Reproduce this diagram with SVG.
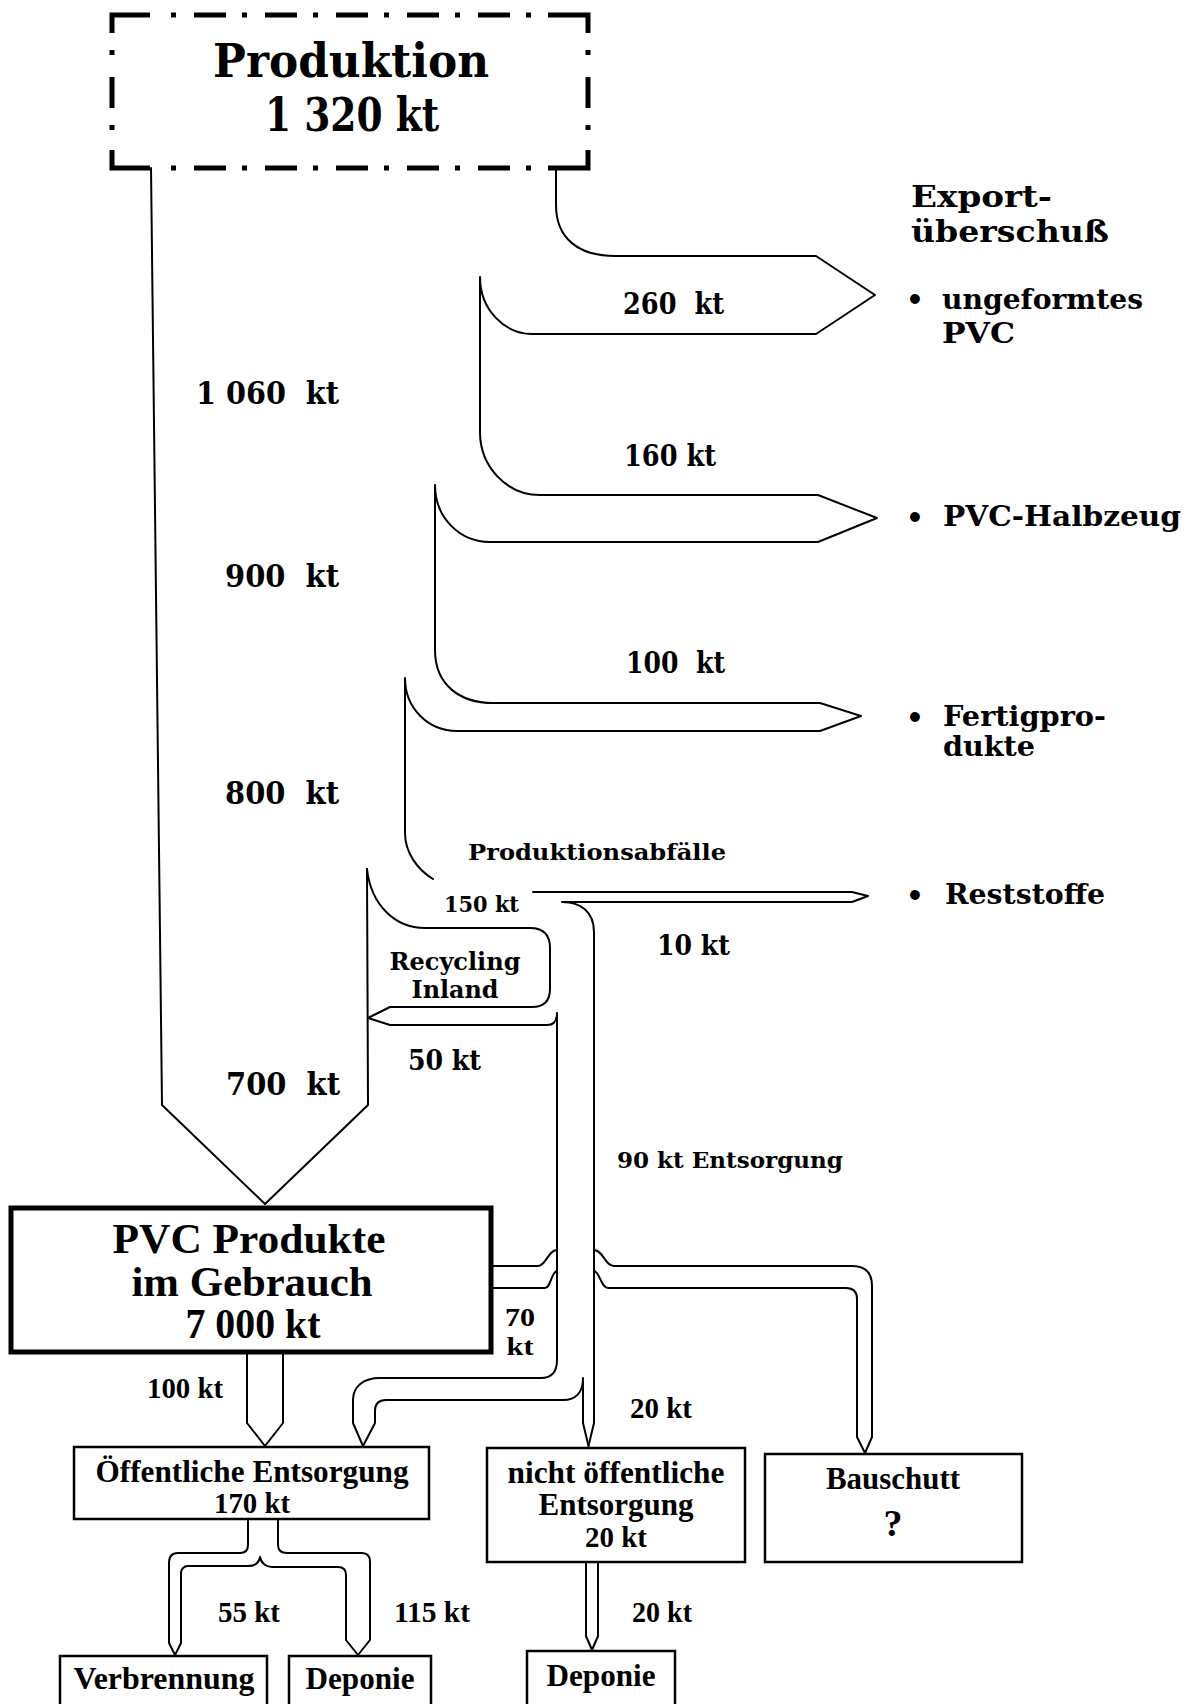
<svg xmlns="http://www.w3.org/2000/svg" width="1190" height="1704" viewBox="0 0 1190 1704">
<style>
.flow{fill:none;stroke:#000;stroke-width:2;stroke-linejoin:round;stroke-linecap:round}
.box{fill:none;stroke:#000;stroke-width:2.5}
.thick{fill:none;stroke:#000;stroke-width:5}
.dash{fill:none;stroke:#000;stroke-width:5;stroke-linecap:butt;stroke-linejoin:miter}
.w{font-family:"DejaVu Serif",serif;font-weight:bold;fill:#000}
.t{font-family:"Liberation Serif","Times New Roman",serif;font-weight:bold;fill:#000}
.pre{white-space:pre}
.m{text-anchor:middle}
</style>
<rect width="1190" height="1704" fill="#fff"/>

<g id="produktion">
<path class="dash" d="M112,33 V15 H150 M548,15 H588 V33 M112,150 V168 H150 M548,168 H588 V150
M171,15 H176 M194,15 H226 M242,15 H247 M265,15 H297 M313,15 H318 M336,15 H368 M384,15 H389 M407,15 H439 M455,15 H460 M478,15 H510 M526,15 H531
M171,168 H176 M194,168 H226 M242,168 H247 M265,168 H297 M313,168 H318 M336,168 H368 M384,168 H389 M407,168 H439 M455,168 H460 M478,168 H510 M526,168 H531
M112,50 V55 M112,77 V108 M112,125 V130 M588,50 V55 M588,77 V108 M588,125 V130"/>
<text class="w m" x="351" y="77" font-size="46" textLength="276" lengthAdjust="spacingAndGlyphs">Produktion</text>
<text class="w m" x="352" y="131" font-size="46" textLength="174" lengthAdjust="spacingAndGlyphs">1 320 kt</text>
</g>

<g id="connectors">
<path class="flow" d="M151,168 L162,1105 L265,1204 L368,1105 L367,869"/>
<path class="flow" d="M556,168 V205 C556,238 578,256 615,256 H816 L875,295 L816,334 H532 C505,334 480,310 480,277 V432 C480,467 507,495 540,495 H818 L877,518 L818,542 H490 C460,542 435,518 435,485 V650 C435,685 460,703 493,703 H820 L861,716 L820,731 H457 C428,731 405,708 405,678 V833 C405,853 418,870 433,879"/>
<path class="flow" d="M533,892 H852 L868,896 L852,902 H562 M562,902 C581,902 594,912 594,932 V1423 L588.5,1446"/>
<path class="flow" d="M367,869 C371,905 395,928 425,928 H530 Q550,928 550,948 V989 Q550,1007 532,1007 H390 L368,1018 L390,1025 H547 Q557,1025 557,1013 V1360 C557,1372 551,1378 541,1378 H380 C364,1378 353,1386 353,1400 V1423 L363,1446"/>
<path class="flow" d="M583,1378 C583,1392 576,1400 563,1400 H386 C379,1400 375,1404 375,1411 V1423 L363,1446 M583,1378 V1423 L588.5,1446"/>
<path class="flow" d="M491,1266 H538 C546,1266 548,1250 557,1250 M594,1250 C603,1250 605,1266 614,1266 H852 Q872,1266 872,1286 V1437 L865,1453"/>
<path class="flow" d="M491,1288 H545 C551,1288 551,1272 557,1271 M594,1271 C600,1272 601,1288 608,1288 H846 Q857,1288 857,1299 V1437 L865,1453"/>
<path class="flow" d="M247,1352 V1423 L265,1446 L283,1423 V1352"/>
<path class="flow" d="M248,1519 V1545 C248,1551 245,1553 240,1553 H178 C172,1553 169,1557 169,1563 V1643 L175,1655 L181,1643 V1573 C181,1569 184,1566 188,1566 H248 C255,1566 259,1563 260,1557 C261,1563 266,1567 272,1567 H338 C343,1567 346,1570 346,1575 V1640 L358,1655 L370,1640 V1562 C370,1556 367,1553 362,1553 H287 C281,1553 278,1550 278,1545 V1519"/>
<path class="flow" d="M586,1562 V1636 L592,1650 L598,1636 V1562"/>
</g>

<g id="pvc-produkte">
<rect class="thick" x="11" y="1208" width="480" height="144"/>
<text class="t m" x="249" y="1253" font-size="42" textLength="273" lengthAdjust="spacingAndGlyphs">PVC Produkte</text>
<text class="t m" x="252" y="1296" font-size="42" textLength="241" lengthAdjust="spacingAndGlyphs">im Gebrauch</text>
<text class="t m" x="253" y="1338" font-size="42" textLength="135" lengthAdjust="spacingAndGlyphs">7 000 kt</text>
</g>

<g id="oeffentliche-entsorgung">
<rect class="box" x="74" y="1447" width="355" height="72"/>
<text class="t m" x="252" y="1482" font-size="31" textLength="313" lengthAdjust="spacingAndGlyphs">Öffentliche Entsorgung</text>
<text class="t m" x="252" y="1513" font-size="29" textLength="76" lengthAdjust="spacingAndGlyphs">170 kt</text>
</g>

<g id="nicht-oeffentliche-entsorgung">
<rect class="box" x="487" y="1448" width="258" height="114"/>
<text class="t m" x="616" y="1483" font-size="31" textLength="217" lengthAdjust="spacingAndGlyphs">nicht öffentliche</text>
<text class="t m" x="616" y="1515" font-size="31" textLength="155" lengthAdjust="spacingAndGlyphs">Entsorgung</text>
<text class="t m" x="616" y="1547" font-size="29" textLength="62" lengthAdjust="spacingAndGlyphs">20 kt</text>
</g>

<g id="bauschutt">
<rect class="box" x="765" y="1454" width="257" height="108"/>
<text class="t m" x="893" y="1489" font-size="31" textLength="134" lengthAdjust="spacingAndGlyphs">Bauschutt</text>
<text class="t m" x="893" y="1536" font-size="38">?</text>
</g>

<g id="verbrennung">
<rect class="box" x="60" y="1656" width="207" height="60"/>
<text class="t m" x="164" y="1689" font-size="31" textLength="181" lengthAdjust="spacingAndGlyphs">Verbrennung</text>
</g>

<g id="deponie-1">
<rect class="box" x="289" y="1656" width="142" height="60"/>
<text class="t m" x="360" y="1689" font-size="31" textLength="109" lengthAdjust="spacingAndGlyphs">Deponie</text>
</g>

<g id="deponie-2">
<rect class="box" x="527" y="1651" width="148" height="65"/>
<text class="t m" x="601" y="1686" font-size="31" textLength="109" lengthAdjust="spacingAndGlyphs">Deponie</text>
</g>

<g id="export">
<text class="w" x="911" y="207" font-size="30" textLength="141" lengthAdjust="spacingAndGlyphs">Export-</text>
<text class="w" x="911" y="242" font-size="30" textLength="198" lengthAdjust="spacingAndGlyphs">überschuß</text>
<text class="w m" x="915" y="309" font-size="28">•</text>
<text class="w" x="942" y="309" font-size="28" textLength="201" lengthAdjust="spacingAndGlyphs">ungeformtes</text>
<text class="w" x="942" y="343" font-size="28" textLength="73" lengthAdjust="spacingAndGlyphs">PVC</text>
<text class="w m" x="915" y="527" font-size="28">•</text>
<text class="w" x="943" y="526" font-size="28" textLength="238" lengthAdjust="spacingAndGlyphs">PVC-Halbzeug</text>
<text class="w m" x="915" y="727" font-size="28">•</text>
<text class="w" x="943" y="726" font-size="28" textLength="163" lengthAdjust="spacingAndGlyphs">Fertigpro-</text>
<text class="w" x="943" y="756" font-size="28" textLength="92" lengthAdjust="spacingAndGlyphs">dukte</text>
<text class="w m" x="915" y="905" font-size="28">•</text>
<text class="w" x="945" y="904" font-size="28" textLength="160" lengthAdjust="spacingAndGlyphs">Reststoffe</text>
</g>

<g id="labels">
<text class="w pre" x="196" y="404" font-size="32" textLength="143" lengthAdjust="spacingAndGlyphs">1 060  kt</text>
<text class="w pre" x="225" y="587" font-size="32" textLength="114" lengthAdjust="spacingAndGlyphs">900  kt</text>
<text class="w pre" x="225" y="804" font-size="32" textLength="114" lengthAdjust="spacingAndGlyphs">800  kt</text>
<text class="w pre" x="226" y="1095" font-size="32" textLength="114" lengthAdjust="spacingAndGlyphs">700  kt</text>
<text class="w pre" x="623" y="314" font-size="30" textLength="101" lengthAdjust="spacingAndGlyphs">260  kt</text>
<text class="w" x="624" y="466" font-size="29" textLength="92" lengthAdjust="spacingAndGlyphs">160 kt</text>
<text class="w pre" x="626" y="673" font-size="29" textLength="99" lengthAdjust="spacingAndGlyphs">100  kt</text>
<text class="w" x="468" y="860" font-size="23" textLength="258" lengthAdjust="spacingAndGlyphs">Produktionsabfälle</text>
<text class="w" x="444" y="912" font-size="23" textLength="75" lengthAdjust="spacingAndGlyphs">150 kt</text>
<text class="w m" x="455" y="970" font-size="24" textLength="131" lengthAdjust="spacingAndGlyphs">Recycling</text>
<text class="w m" x="455" y="998" font-size="24" textLength="87" lengthAdjust="spacingAndGlyphs">Inland</text>
<text class="w" x="408" y="1070" font-size="27" textLength="73" lengthAdjust="spacingAndGlyphs">50 kt</text>
<text class="w" x="657" y="955" font-size="27" textLength="73" lengthAdjust="spacingAndGlyphs">10 kt</text>
<text class="w" x="617" y="1168" font-size="23" textLength="226" lengthAdjust="spacingAndGlyphs">90 kt Entsorgung</text>
<text class="t m" x="520" y="1326" font-size="26" textLength="30" lengthAdjust="spacingAndGlyphs">70</text>
<text class="t m" x="520" y="1355" font-size="26" textLength="27" lengthAdjust="spacingAndGlyphs">kt</text>
<text class="t" x="147" y="1398" font-size="29" textLength="76" lengthAdjust="spacingAndGlyphs">100 kt</text>
<text class="t" x="630" y="1418" font-size="29" textLength="62" lengthAdjust="spacingAndGlyphs">20 kt</text>
<text class="t" x="218" y="1622" font-size="29" textLength="62" lengthAdjust="spacingAndGlyphs">55 kt</text>
<text class="t" x="394" y="1622" font-size="29" textLength="76" lengthAdjust="spacingAndGlyphs">115 kt</text>
<text class="t" x="632" y="1622" font-size="29" textLength="60" lengthAdjust="spacingAndGlyphs">20 kt</text>
</g>
</svg>
